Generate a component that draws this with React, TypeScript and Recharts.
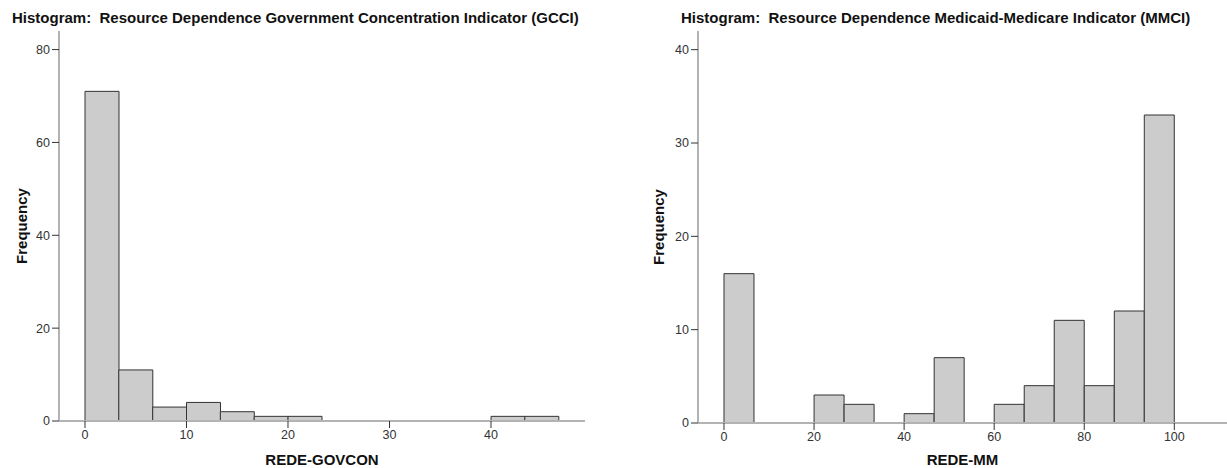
import React from 'react';
import { BarChart, Bar, XAxis, YAxis, Label } from 'recharts';

// bin lower edges and counts
const gcciEdges = [0, 3.33, 6.67, 10, 13.33, 16.67, 20, 23.33, 26.67, 30, 33.33, 36.67, 40, 43.33];
const gcciCounts = [71, 11, 3, 4, 2, 1, 1, 0, 0, 0, 0, 0, 1, 1];
const gcciXTicks = [0, 10, 20, 30, 40];
const gcciYTicks = [0, 20, 40, 60, 80];

const mmciEdges = [0, 6.67, 13.33, 20, 26.67, 33.33, 40, 46.67, 53.33, 60, 66.67, 73.33, 80, 86.67, 93.33];
const mmciCounts = [16, 0, 0, 3, 2, 0, 1, 7, 0, 2, 4, 11, 4, 12, 33];
const mmciXTicks = [0, 20, 40, 60, 80, 100];
const mmciYTicks = [0, 10, 20, 30, 40];

const FONT = '"Liberation Sans", Arial, sans-serif';
const NARROW = '"Liberation Sans Narrow", "Arial Narrow", "Liberation Sans", sans-serif';
const tickStyle = { fill: '#333', fontSize: 12.5, fontFamily: NARROW };

type HistProps = {
  title: string;
  edges: number[];
  counts: number[];
  binWidth: number;
  xTicks: number[];
  yTicks: number[];
  xDomain: [number, number];
  yMax: number;
  xLabel: string;
  left: number;
  width: number;
  titleLeft: number;
  yAxisWidth: number;
  rightMargin: number;
  xAxisHeight: number;
  yLabelOffset: number;
  xLabelOffset: number;
};

function Histogram(p: HistProps) {
  const data = p.edges.map((e, i) => ({ mid: e + p.binWidth / 2, count: p.counts[i] }));
  return (
    <>
      <div
        style={{
          position: 'absolute', left: p.titleLeft, top: 9, whiteSpace: 'pre',
          fontFamily: FONT, fontWeight: 'bold', fontSize: 15, color: '#111',
        }}
      >
        {p.title}
      </div>
      <div style={{ position: 'absolute', left: p.left, top: 0 }}>
        <BarChart
          width={p.width}
          height={468}
          data={data}
          margin={{ top: 31, right: p.rightMargin, bottom: 0, left: 0 }}
          barCategoryGap={0}
          barGap={0}
        >
          <XAxis
            dataKey="mid"
            type="number"
            domain={p.xDomain}
            ticks={p.xTicks}
            allowDataOverflow
            height={p.xAxisHeight}
            axisLine={{ stroke: '#b3b3b3', strokeWidth: 2 }}
            tickLine={{ stroke: '#333' }}
            tickSize={7}
            tickMargin={2}
            tick={tickStyle}
          >
            <Label
              value={p.xLabel}
              position="insideBottom"
              offset={p.xLabelOffset}
              style={{ fontFamily: FONT, fontWeight: 'bold', fontSize: 15, fill: '#111' }}
            />
          </XAxis>
          <YAxis
            type="number"
            domain={[0, p.yMax]}
            ticks={p.yTicks}
            allowDataOverflow
            width={p.yAxisWidth}
            axisLine={{ stroke: '#b3b3b3', strokeWidth: 2 }}
            tickLine={{ stroke: '#333' }}
            tickSize={7}
            tickMargin={2}
            tick={tickStyle}
          >
            <Label
              value="Frequency"
              angle={-90}
              position="insideLeft"
              offset={p.yLabelOffset}
              textAnchor="middle"
              style={{ fontFamily: FONT, fontWeight: 'bold', fontSize: 15, fill: '#111', textAnchor: 'middle' }}
            />
          </YAxis>
          <Bar dataKey="count" fill="#cccccc" stroke="#333" strokeWidth={1} isAnimationActive={false} />
        </BarChart>
      </div>
    </>
  );
}

export default function App() {
  return (
    <div style={{ position: 'absolute', left: 0, top: 0, width: 1227, height: 468, background: '#fff', overflow: 'hidden' }}>
      <Histogram
        title="Histogram:  Resource Dependence Government Concentration Indicator (GCCI)"
        edges={gcciEdges}
        counts={gcciCounts}
        binWidth={3.333}
        xTicks={gcciXTicks}
        yTicks={gcciYTicks}
        xDomain={[-2.56, 49.26]}
        yMax={84}
        xLabel="REDE-GOVCON"
        left={0}
        width={600}
        titleLeft={12}
        yAxisWidth={59}
        rightMargin={15}
        xAxisHeight={47}
        yLabelOffset={22}
        xLabelOffset={3}
      />
      <Histogram
        title="Histogram:  Resource Dependence Medicaid-Medicare Indicator (MMCI)"
        edges={mmciEdges}
        counts={mmciCounts}
        binWidth={6.667}
        xTicks={mmciXTicks}
        yTicks={mmciYTicks}
        xDomain={[-5.77, 111.7]}
        yMax={42}
        xLabel="REDE-MM"
        left={640}
        width={587}
        titleLeft={681}
        yAxisWidth={58}
        rightMargin={0}
        xAxisHeight={45}
        yLabelOffset={19}
        xLabelOffset={3}
      />
    </div>
  );
}
